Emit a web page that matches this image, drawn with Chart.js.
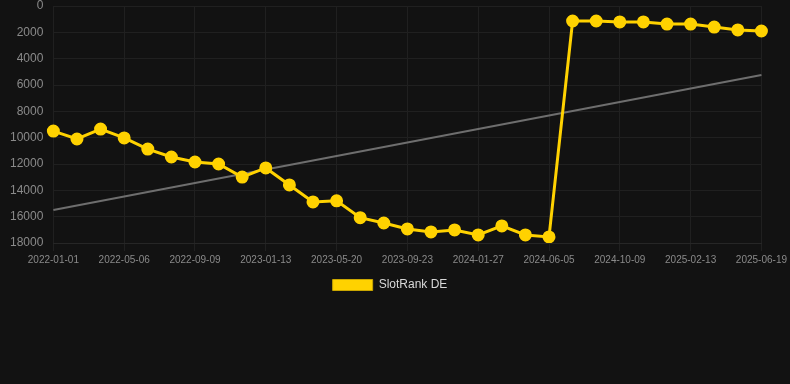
<!DOCTYPE html>
<html>
<head>
<meta charset="utf-8">
<script src="https://cdn.jsdelivr.net/npm/chart.js@4/dist/chart.umd.min.js"></script>
<style>
html,body{margin:0;padding:0;background:#121212;}
#wrap{width:790px;height:384px;position:relative;}
</style>
</head>
<body>
<div id="wrap"><canvas id="c"></canvas></div>
<script>
const categories = [
  "2022-01-01","2022-02-12","2022-03-25","2022-05-06","2022-06-17","2022-07-29",
  "2022-09-09","2022-10-21","2022-12-02","2023-01-13","2023-02-24","2023-04-07",
  "2023-05-20","2023-07-01","2023-08-12","2023-09-23","2023-11-04","2023-12-16",
  "2024-01-27","2024-03-10","2024-04-23","2024-06-05","2024-07-17","2024-08-28",
  "2024-10-09","2024-11-20","2025-01-01","2025-02-13","2025-03-27","2025-05-08",
  "2025-06-19"
];
const slotRankDE = [
  9500, 10100, 9350, 10020, 10870, 11470,
  11850, 12000, 12990, 12300, 13590, 14880,
  14800, 16080, 16480, 16930, 17160, 17010,
  17390, 16700, 17390, 17540, 1140, 1140,
  1210, 1210, 1370, 1370, 1600, 1820,
  1900
];
const trendStart = 15490;
const trendEnd = 5240;
const trendValues = categories.map((_, i) => i === 0 ? trendStart : (i === categories.length - 1 ? trendEnd : null));
const yTicks = [0, 2000, 4000, 6000, 8000, 10000, 12000, 14000, 16000, 18000];

const FONT = "'Liberation Sans', Arial, Helvetica, sans-serif";
const GRID = '#202020';

const legendShift = {
  id: 'legendShift',
  afterLayout(chart) {
    if (chart.legend) { chart.legend.left += 2; chart.legend.right += 2; }
  }
};

new Chart(document.getElementById('c'), {
  type: 'line',
  data: {
    labels: categories,
    datasets: [
      {
        label: 'SlotRank DE',
        data: slotRankDE,
        borderColor: '#FFD200',
        backgroundColor: '#FFD200',
        borderWidth: 3,
        pointRadius: 5,
        pointHoverRadius: 5,
        pointBackgroundColor: '#FFD200',
        pointBorderColor: '#FFD200',
        tension: 0,
        order: 1
      },
      {
        label: 'trend',
        data: trendValues,
        spanGaps: true,
        borderColor: '#6e6e6e',
        borderWidth: 2,
        pointRadius: 0,
        pointHoverRadius: 0,
        tension: 0,
        order: 2
      }
    ]
  },
  plugins: [legendShift],
  options: {
    responsive: true,
    maintainAspectRatio: false,
    animation: false,
    layout: { autoPadding: false, padding: { left: 10, right: 24, top: 0, bottom: 83 } },
    plugins: {
      legend: {
        position: 'bottom',
        labels: {
          filter: (item) => item.text === 'SlotRank DE',
          generateLabels: (chart) => {
            const items = Chart.defaults.plugins.legend.labels.generateLabels(chart);
            items.forEach(it => { it.lineWidth = 1; it.strokeStyle = '#c9a600'; });
            return items;
          },
          boxWidth: 40,
          boxHeight: 11,
          color: '#d8d8d8',
          font: { family: FONT, size: 12 },
          padding: 10
        }
      },
      tooltip: { enabled: false }
    },
    scales: {
      x: {
        grid: {
          color: (ctx) => (ctx.index % 3 === 0 ? GRID : 'rgba(0,0,0,0)'),
          tickColor: (ctx) => (ctx.index % 3 === 0 ? GRID : 'rgba(0,0,0,0)'),
          drawTicks: true, tickLength: 8
        },
        border: { color: '#262626' },
        ticks: {
          color: '#8a8a8a',
          font: { family: FONT, size: 10 },
          maxRotation: 0,
          autoSkip: false,
          padding: 3,
          callback: function(v, i) { return i % 3 === 0 ? categories[i] : ''; }
        }
      },
      y: {
        reverse: true,
        min: 0,
        max: 18000,
        afterBuildTicks: (axis) => { axis.ticks = yTicks.map(v => ({ value: v })); },
        grid: { color: GRID, drawTicks: true, tickLength: 10, tickColor: 'rgba(0,0,0,0)' },
        border: { display: false },
        ticks: {
          color: '#8a8a8a',
          font: { family: FONT, size: 12, lineHeight: 1 },
          padding: 0,
          callback: (v) => String(v)
        }
      }
    }
  }
});
</script>
</body>
</html>
